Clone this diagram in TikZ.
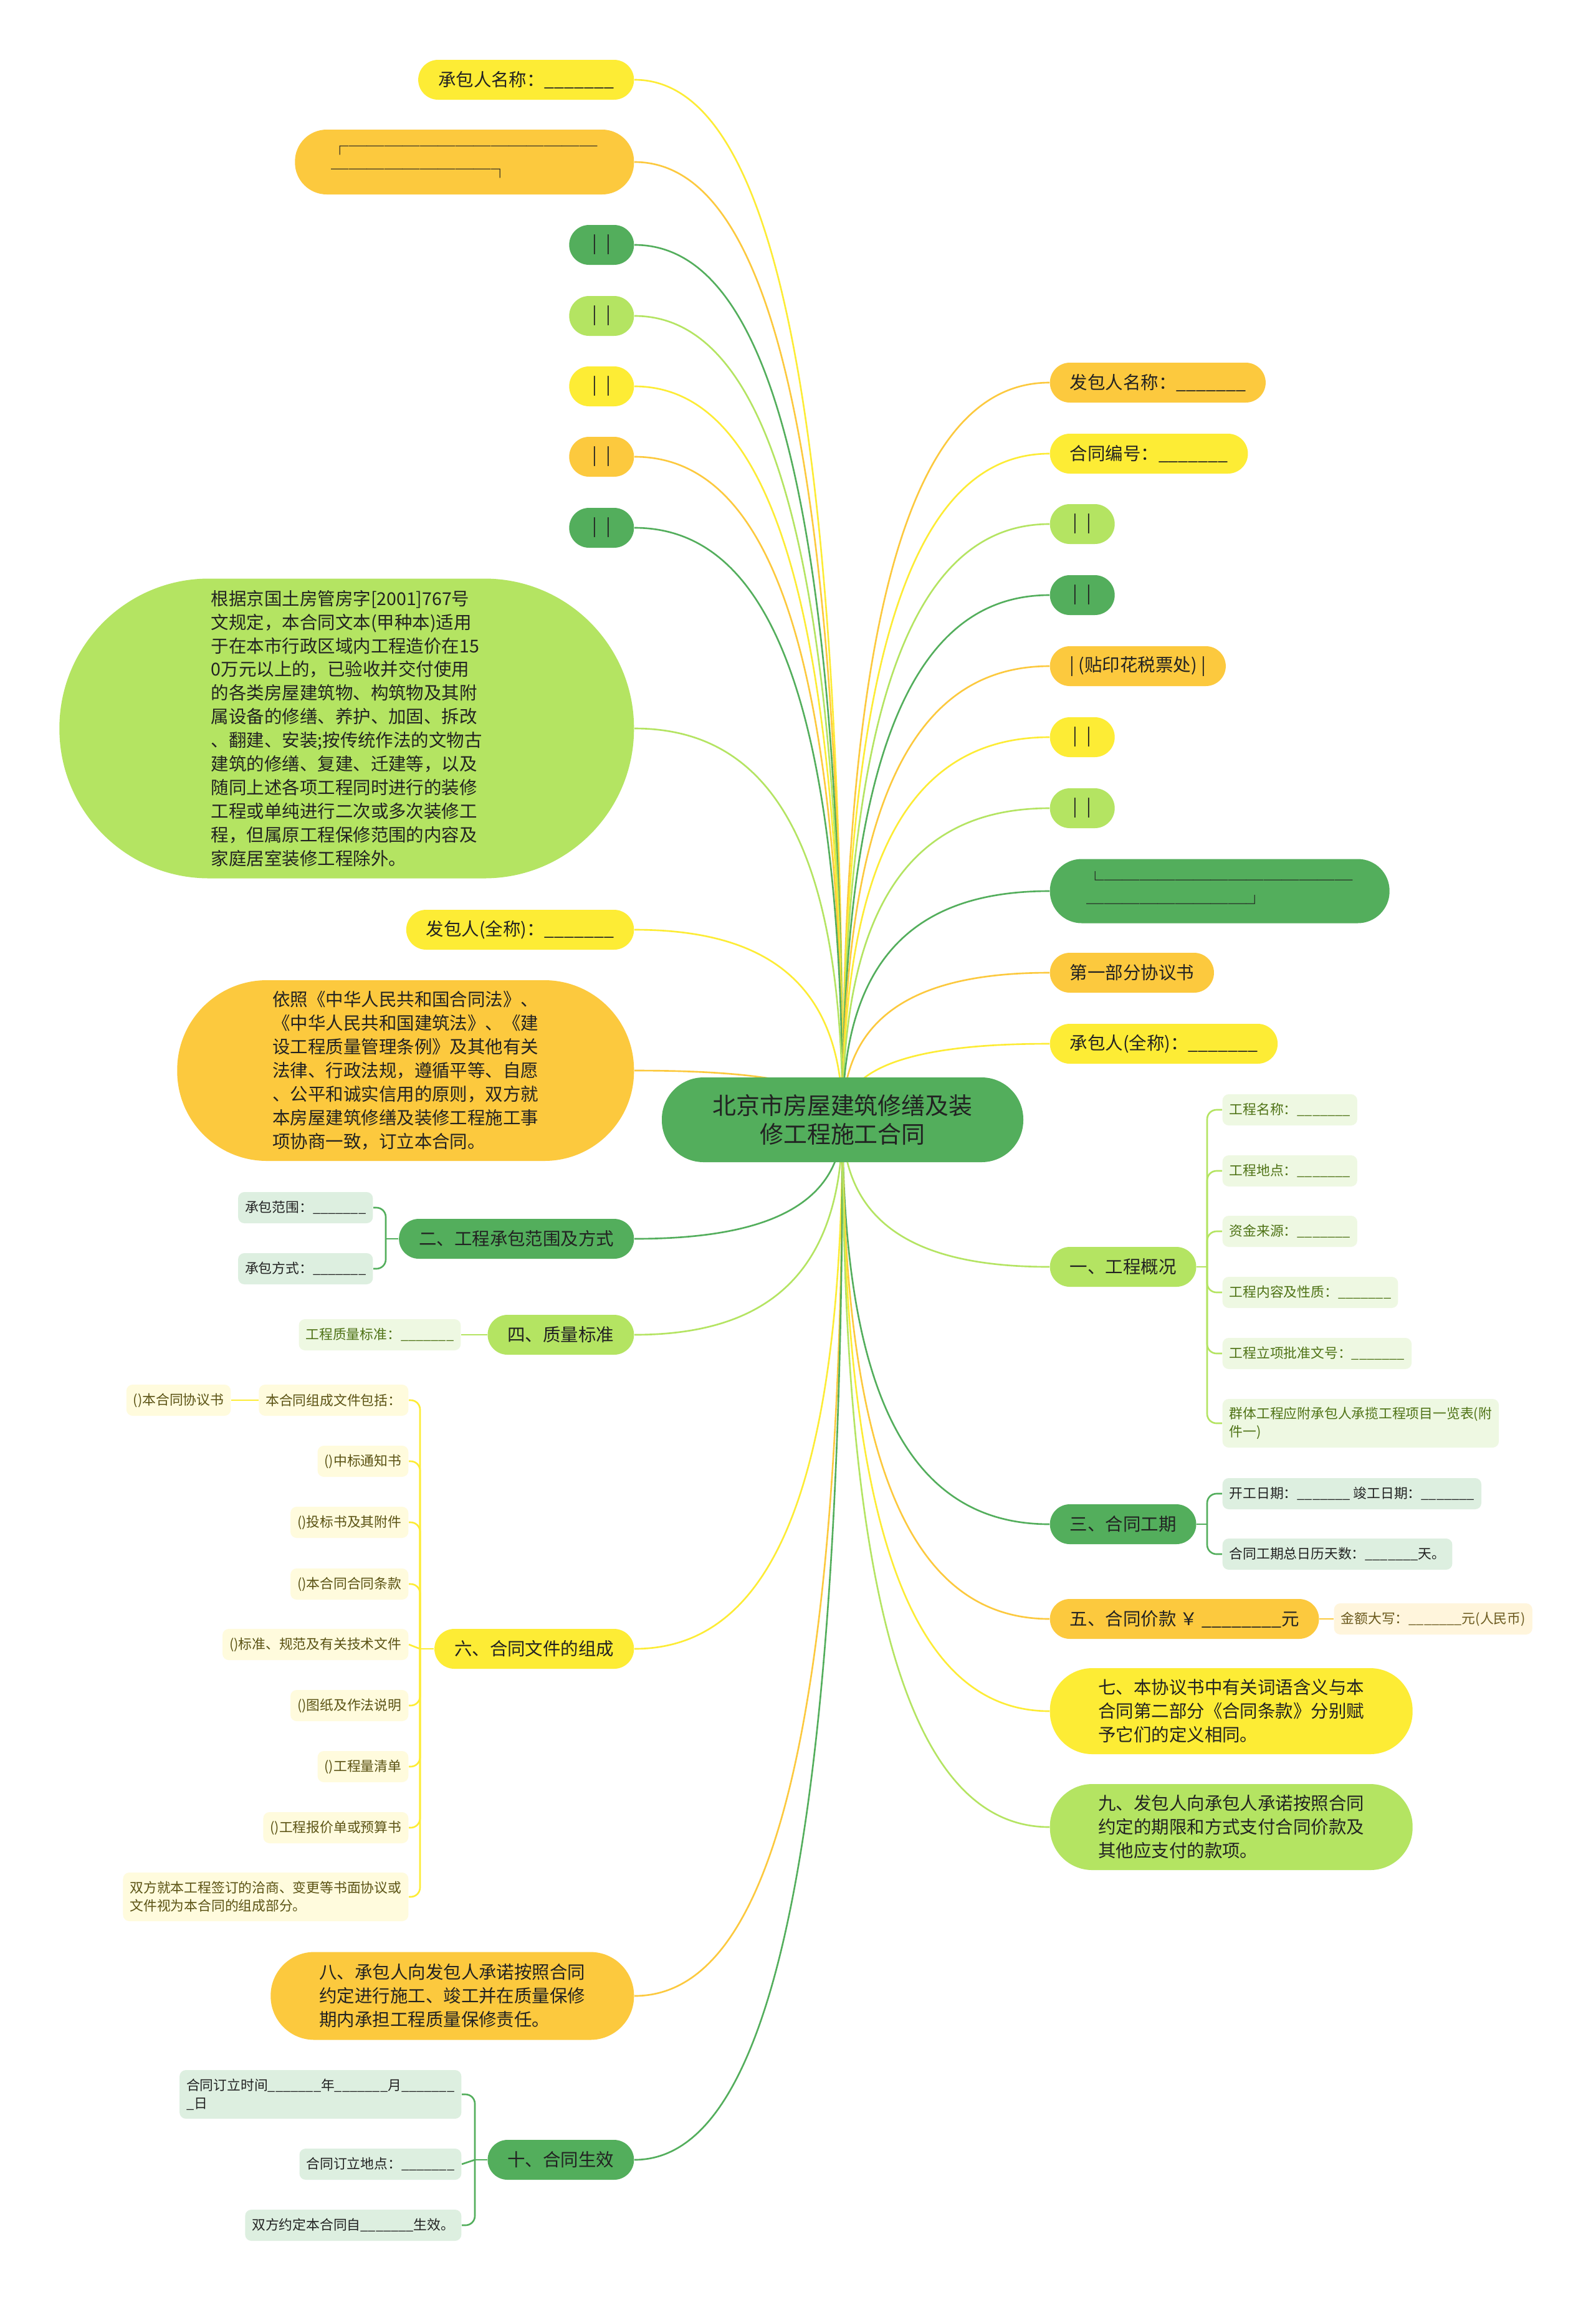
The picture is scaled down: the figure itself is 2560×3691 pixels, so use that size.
\documentclass[tikz,border=0pt]{standalone}
\usepackage{fontspec}
\setmainfont{Noto Sans CJK SC}
\usepackage{tikz}
\usetikzlibrary{calc}

\definecolor{dkg}{HTML}{53AE5C}
\definecolor{ltg}{HTML}{B4E462}
\definecolor{ylw}{HTML}{FDEC35}
\definecolor{org}{HTML}{FCC93E}
\definecolor{dkgpale}{HTML}{DDEFE0}
\definecolor{ltgpale}{HTML}{EEF8E2}
\definecolor{ylwpale}{HTML}{FFFBDD}
\definecolor{orgpale}{HTML}{FFF5DC}
\definecolor{txt}{HTML}{222222}
\definecolor{ltgtxt}{HTML}{4F7316}
\definecolor{ylwtxt}{HTML}{5B5314}
\definecolor{orgtxt}{HTML}{6B5A1E}
\newcommand{\fillblank}{\_\_\_\_\_\_\_}
\pgfdeclarelayer{wires}
\pgfsetlayers{wires,main}

\begin{document}
\begin{tikzpicture}[
  x=0.1mm, y=-0.1mm,
  pill/.style={rounded corners=3.2mm, minimum height=6.4mm, inner xsep=3.2mm, inner ysep=0pt, text=txt, font=\fontsize{8.1pt}{10.8pt}\selectfont},
  bars/.style={pill, minimum width=10.4mm},
  para/.style={pill, align=left},
  leaf/.style={rounded corners=1mm, minimum height=5mm, inner xsep=1.1mm, inner ysep=0pt, align=left, font=\fontsize{6.2pt}{8.2pt}\selectfont},
  dkleaf/.style={leaf, fill=dkgpale, text=txt},
  ltleaf/.style={leaf, fill=ltgpale, text=ltgtxt},
  ywleaf/.style={leaf, fill=ylwpale, text=ylwtxt},
  orleaf/.style={leaf, fill=orgpale, text=orgtxt},
  branch/.style={line width=0.75pt, to path={.. controls ($(\tikztostart)!0.75!(\tikztostart|-\tikztotarget)$) and ($(\tikztotarget)!0.6!(\tikztostart|-\tikztotarget)$) .. (\tikztotarget)}},
  twig/.style={line width=0.75pt, rounded corners=1.5mm}
]
  \useasboundingbox (0,0) rectangle (2560,3691);

  % centre
  \node[pill, fill=dkg, align=center, font=\fontsize{10.8pt}{13.3pt}\selectfont, minimum width=58mm, minimum height=13.6mm, rounded corners=6.7mm] (root) at (1352,1797) {北京市房屋建筑修缮及装\\修工程施工合同};

  % left side
  \node[pill, fill=ylw, anchor=east] (a1) at (1018,128) {承包人名称：\fillblank{}};
  \node[para, fill=org, anchor=east, minimum width=54.4mm, minimum height=10.4mm, rounded corners=5.1mm] (a2) at (1018,260) {┌──────────────\\─────────┐};
  \node[bars, fill=dkg, anchor=east] (a3) at (1018,393) {|\enspace|};
  \node[bars, fill=ltg, anchor=east] (a4) at (1018,507) {|\enspace|};
  \node[bars, fill=ylw, anchor=east] (a5) at (1018,620) {|\enspace|};
  \node[bars, fill=org, anchor=east] (a6) at (1018,733) {|\enspace|};
  \node[bars, fill=dkg, anchor=east] (a7) at (1018,847) {|\enspace|};
  \node[para, fill=ltg, anchor=east, minimum width=92.2mm, minimum height=48.1mm, rounded corners=24mm] (a8) at (1018,1169) {根据京国土房管房字[2001]767号\\文规定，本合同文本(甲种本)适用\\于在本市行政区域内工程造价在15\\0万元以上的，已验收并交付使用\\的各类房屋建筑物、构筑物及其附\\属设备的修缮、养护、加固、拆改\\、翻建、安装;按传统作法的文物古\\建筑的修缮、复建、迁建等，以及\\随同上述各项工程同时进行的装修\\工程或单纯进行二次或多次装修工\\程，但属原工程保修范围的内容及\\家庭居室装修工程除外。};
  \node[pill, fill=ylw, anchor=east] (a9) at (1018,1492) {发包人(全称)：\fillblank{}};
  \node[para, fill=org, anchor=east, minimum width=73.3mm, minimum height=29mm, rounded corners=14.4mm] (a10) at (1018,1718) {依照《中华人民共和国合同法》、\\《中华人民共和国建筑法》、《建\\设工程质量管理条例》及其他有关\\法律、行政法规，遵循平等、自愿\\、公平和诚实信用的原则，双方就\\本房屋建筑修缮及装修工程施工事\\项协商一致，订立本合同。};
  \node[pill, fill=dkg, anchor=east] (a11) at (1018,1988) {二、工程承包范围及方式};
  \node[pill, fill=ltg, anchor=east] (a12) at (1018,2142) {四、质量标准};
  \node[pill, fill=ylw, anchor=east] (a13) at (1018,2646) {六、合同文件的组成};
  \node[para, fill=org, anchor=east, minimum width=58.3mm, minimum height=14.1mm, rounded corners=7mm] (a14) at (1018,3203) {八、承包人向发包人承诺按照合同\\约定进行施工、竣工并在质量保修\\期内承担工程质量保修责任。};
  \node[pill, fill=dkg, anchor=east] (a15) at (1018,3466) {十、合同生效};

  % right side
  \node[pill, fill=org, anchor=west] (b1) at (1684,614) {发包人名称：\fillblank{}};
  \node[pill, fill=ylw, anchor=west] (b2) at (1684,728) {合同编号：\fillblank{}};
  \node[bars, fill=ltg, anchor=west] (b3) at (1684,841) {|\enspace|};
  \node[bars, fill=dkg, anchor=west] (b4) at (1684,955) {|\enspace|};
  \node[pill, fill=org, anchor=west] (b5) at (1684,1069) {| (贴印花税票处) |};
  \node[bars, fill=ylw, anchor=west] (b6) at (1684,1183) {|\enspace|};
  \node[bars, fill=ltg, anchor=west] (b7) at (1684,1297) {|\enspace|};
  \node[para, fill=dkg, anchor=west, minimum width=54.5mm, minimum height=10.3mm, rounded corners=5.1mm] (b8) at (1684,1430) {└──────────────\\─────────┘};
  \node[pill, fill=org, anchor=west] (b9) at (1684,1561) {第一部分协议书};
  \node[pill, fill=ylw, anchor=west] (b10) at (1684,1675) {承包人(全称)：\fillblank{}};
  \node[pill, fill=ltg, anchor=west] (b11) at (1684,2033) {一、工程概况};
  \node[pill, fill=dkg, anchor=west] (b12) at (1684,2446) {三、合同工期};
  \node[pill, fill=org, anchor=west] (b13) at (1684,2598) {五、合同价款 ￥ \fillblank\_元};
  \node[para, fill=ylw, anchor=west, minimum width=58.2mm, minimum height=13.8mm, rounded corners=6.8mm] (b14) at (1684,2746) {七、本协议书中有关词语含义与本\\合同第二部分《合同条款》分别赋\\予它们的定义相同。};
  \node[para, fill=ltg, anchor=west, minimum width=58.2mm, minimum height=13.8mm, rounded corners=6.8mm] (b15) at (1684,2932) {九、发包人向承包人承诺按照合同\\约定的期限和方式支付合同价款及\\其他应支付的款项。};

  % leaves
  \node[dkleaf, anchor=east] (s1) at (599,1938) {承包范围：\fillblank{}};
  \node[dkleaf, anchor=east] (s2) at (599,2036) {承包方式：\fillblank{}};
  \node[ltleaf, anchor=east] (q1) at (740,2142) {工程质量标准：\fillblank{}};
  \node[ywleaf, anchor=east] (c1) at (656,2247) {本合同组成文件包括：};
  \node[ywleaf, anchor=east] (c0) at (371,2247) {()本合同协议书};
  \node[ywleaf, anchor=east] (c2) at (656,2345) {()中标通知书};
  \node[ywleaf, anchor=east] (c3) at (656,2443) {()投标书及其附件};
  \node[ywleaf, anchor=east] (c4) at (656,2542) {()本合同合同条款};
  \node[ywleaf, anchor=east] (c5) at (656,2639) {()标准、规范及有关技术文件};
  \node[ywleaf, anchor=east] (c6) at (656,2737) {()图纸及作法说明};
  \node[ywleaf, anchor=east] (c7) at (656,2835) {()工程量清单};
  \node[ywleaf, anchor=east] (c8) at (656,2933) {()工程报价单或预算书};
  \node[ywleaf, anchor=east, minimum height=7.8mm] (c9) at (656,3044) {双方就本工程签订的洽商、变更等书面协议或\\文件视为本合同的组成部分。};
  \node[dkleaf, anchor=east, minimum height=7.8mm] (t1) at (741,3361) {合同订立时间\fillblank{}年\fillblank{}月\fillblank{}\\\_日};
  \node[dkleaf, anchor=east] (t2) at (741,3473) {合同订立地点：\fillblank{}};
  \node[dkleaf, anchor=east] (t3) at (741,3571) {双方约定本合同自\fillblank{}生效。};
  \node[ltleaf, anchor=west] (k1) at (1961,1781) {工程名称：\fillblank{}};
  \node[ltleaf, anchor=west] (k2) at (1961,1879) {工程地点：\fillblank{}};
  \node[ltleaf, anchor=west] (k3) at (1961,1976) {资金来源：\fillblank{}};
  \node[ltleaf, anchor=west] (k4) at (1961,2074) {工程内容及性质：\fillblank{}};
  \node[ltleaf, anchor=west] (k5) at (1961,2172) {工程立项批准文号：\fillblank{}};
  \node[ltleaf, anchor=west, minimum height=7.8mm] (k6) at (1961,2284) {群体工程应附承包人承揽工程项目一览表(附\\件一)};
  \node[dkleaf, anchor=west] (m1) at (1961,2397) {开工日期：\fillblank{} 竣工日期：\fillblank{}};
  \node[dkleaf, anchor=west] (m2) at (1961,2494) {合同工期总日历天数：\fillblank{}天。};
  \node[orleaf, anchor=west] (p1) at (2140,2598) {金额大写：\fillblank{}元(人民币)};

  \coordinate (a11t) at (619,1988);
  \coordinate (a13t) at (674,2646);
  \coordinate (a15t) at (762,3466);
  \coordinate (b11t) at (1937,2033);
  \coordinate (b12t) at (1937,2446);

  \begin{pgfonlayer}{wires}
    \fill[white] (0,0) rectangle (2560,3691);
    % root to main topics
    \draw[branch, ylw] (root.center) to (a1.east);
    \draw[branch, org] (root.center) to (a2.east);
    \draw[branch, dkg] (root.center) to (a3.east);
    \draw[branch, ltg] (root.center) to (a4.east);
    \draw[branch, ylw] (root.center) to (a5.east);
    \draw[branch, org] (root.center) to (a6.east);
    \draw[branch, dkg] (root.center) to (a7.east);
    \draw[branch, ltg] (root.center) to (a8.east);
    \draw[branch, ylw] (root.center) to (a9.east);
    \draw[branch, org] (root.center) to (a10.east);
    \draw[branch, dkg] (root.center) to (a11.east);
    \draw[branch, ltg] (root.center) to (a12.east);
    \draw[branch, ylw] (root.center) to (a13.east);
    \draw[branch, org] (root.center) to (a14.east);
    \draw[branch, dkg] (root.center) to (a15.east);
    \draw[branch, org] (root.center) to (b1.west);
    \draw[branch, ylw] (root.center) to (b2.west);
    \draw[branch, ltg] (root.center) to (b3.west);
    \draw[branch, dkg] (root.center) to (b4.west);
    \draw[branch, org] (root.center) to (b5.west);
    \draw[branch, ylw] (root.center) to (b6.west);
    \draw[branch, ltg] (root.center) to (b7.west);
    \draw[branch, dkg] (root.center) to (b8.west);
    \draw[branch, org] (root.center) to (b9.west);
    \draw[branch, ylw] (root.center) to (b10.west);
    \draw[branch, ltg] (root.center) to (b11.west);
    \draw[branch, dkg] (root.center) to (b12.west);
    \draw[branch, org] (root.center) to (b13.west);
    \draw[branch, ylw] (root.center) to (b14.west);
    \draw[branch, ltg] (root.center) to (b15.west);
    % sub topics
    \draw[twig, dkg] (a11.west) -- (a11t);
    \draw[twig, dkg] (a11t) |- (s1.east);
    \draw[twig, dkg] (a11t) |- (s2.east);
    \draw[twig, ltg] (a12.west) -- (q1.east);
    \draw[twig, ylw] (a13.west) -- (a13t);
    \draw[twig, ylw] (a13t) |- (c1.east);
    \draw[twig, ylw] (c1.west) -- (c0.east);
    \draw[twig, ylw] (a13t) |- (c2.east);
    \draw[twig, ylw] (a13t) |- (c3.east);
    \draw[twig, ylw] (a13t) |- (c4.east);
    \draw[twig, ylw] (a13t) -- (c5.east);
    \draw[twig, ylw] (a13t) |- (c6.east);
    \draw[twig, ylw] (a13t) |- (c7.east);
    \draw[twig, ylw] (a13t) |- (c8.east);
    \draw[twig, ylw] (a13t) |- (c9.east);
    \draw[twig, dkg] (a15.west) -- (a15t);
    \draw[twig, dkg] (a15t) |- (t1.east);
    \draw[twig, dkg] (a15t) -- (t2.east);
    \draw[twig, dkg] (a15t) |- (t3.east);
    \draw[twig, ltg] (b11.east) -- (b11t);
    \draw[twig, ltg] (b11t) |- (k1.west);
    \draw[twig, ltg] (b11t) |- (k2.west);
    \draw[twig, ltg] (b11t) |- (k3.west);
    \draw[twig, ltg] (b11t) |- (k4.west);
    \draw[twig, ltg] (b11t) |- (k5.west);
    \draw[twig, ltg] (b11t) |- (k6.west);
    \draw[twig, dkg] (b12.east) -- (b12t);
    \draw[twig, dkg] (b12t) |- (m1.west);
    \draw[twig, dkg] (b12t) |- (m2.west);
    \draw[twig, org] (b13.east) -- (p1.west);
  \end{pgfonlayer}
\end{tikzpicture}
\end{document}
